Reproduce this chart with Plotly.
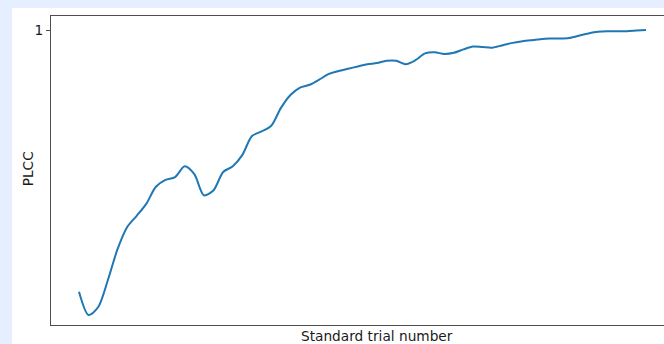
import plotly.graph_objects as go

# PLCC measured after each standard trial
trial_number = list(range(1, 61))
plcc = [
    0.541, 0.500, 0.514, 0.561, 0.615, 0.654, 0.674, 0.695, 0.725, 0.737,
    0.742, 0.761, 0.747, 0.710, 0.719, 0.751, 0.761, 0.781, 0.814, 0.822,
    0.832, 0.863, 0.886, 0.899, 0.904, 0.913, 0.923, 0.928, 0.932, 0.936,
    0.940, 0.942, 0.946, 0.946, 0.940, 0.947, 0.959, 0.961, 0.958, 0.960,
    0.966, 0.971, 0.970, 0.969, 0.973, 0.977, 0.980, 0.982, 0.984, 0.985,
    0.985, 0.986, 0.990, 0.994, 0.997, 0.998, 0.998, 0.998, 0.999, 1.000,
]
y_ticks = [1]
y_tick_labels = ["1"]

FONT = "DejaVu Sans"
FONT_SIZE = 13.7
AXIS_COLOR = "#4d4d4d"
TEXT_COLOR = "#1a1a1a"

fig = go.Figure()
fig.add_trace(go.Scatter(
    x=trial_number,
    y=plcc,
    mode="lines",
    line=dict(color="#1f77b4", width=2, shape="spline", smoothing=0.8),
    hoverinfo="x+y",
))

fig.update_layout(
    width=664,
    height=344,
    margin=dict(l=51, r=0, t=16, b=19),
    paper_bgcolor="#e6efff",
    plot_bgcolor="white",
    showlegend=False,
    font=dict(family=FONT, size=FONT_SIZE, color=TEXT_COLOR),
    shapes=[
        # white figure canvas
        dict(type="rect", xref="paper", yref="paper",
             x0=-0.0636, x1=1.2, y0=-0.1, y1=1.0259,
             fillcolor="white", line=dict(width=0), layer="below"),
    ],
    annotations=[
        dict(text="Standard trial number", xref="paper", yref="paper",
             x=0.5318, y=-0.0356, xanchor="center", yanchor="middle",
             showarrow=False,
             font=dict(family=FONT, size=FONT_SIZE, color=TEXT_COLOR)),
        dict(text="PLCC", xref="paper", yref="paper",
             x=-0.037, y=0.505, xanchor="center", yanchor="middle",
             textangle=-90, showarrow=False,
             font=dict(family=FONT, size=FONT_SIZE, color=TEXT_COLOR)),
    ],
)

fig.update_xaxes(
    range=[-1.914, 61.873],
    showgrid=False, zeroline=False,
    showticklabels=False, ticks="",
    showline=True, linecolor=AXIS_COLOR, linewidth=1.3, mirror=True,
)
fig.update_yaxes(
    range=[0.4825, 1.0246],
    tickvals=y_ticks, ticktext=y_tick_labels,
    ticks="outside", ticklen=4, tickcolor=AXIS_COLOR, tickwidth=1,
    tickfont=dict(family=FONT, size=FONT_SIZE, color=TEXT_COLOR),
    showgrid=False, zeroline=False,
    showline=True, linecolor=AXIS_COLOR, linewidth=1.3, mirror=False,
)

fig.write_html("out.html")
